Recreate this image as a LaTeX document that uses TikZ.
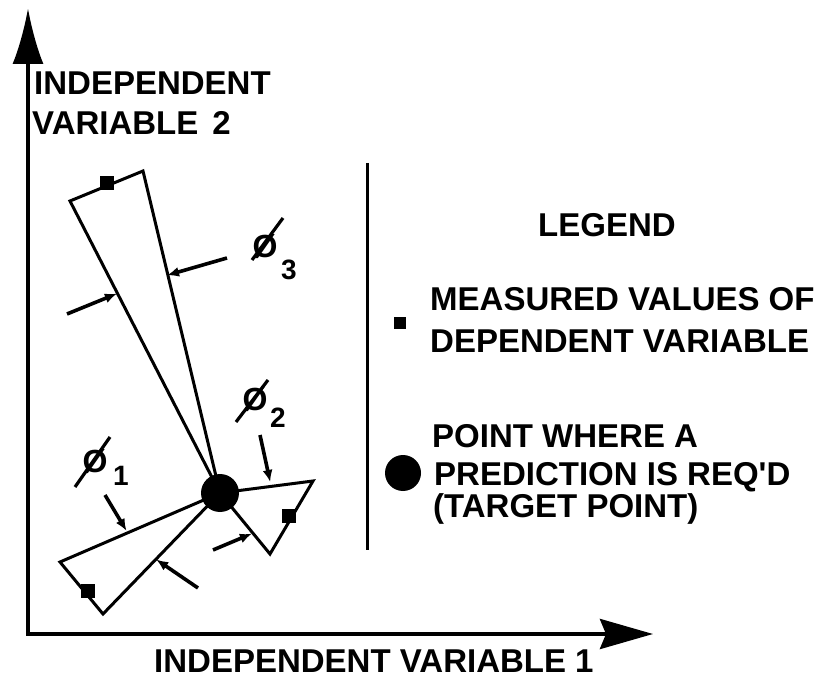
\documentclass[tikz,border=0pt]{standalone}
\usepackage{fontspec}
\setmainfont{Liberation Sans}
\usetikzlibrary{arrows.meta}

\newcommand{\bigtxt}{\fontsize{33}{36}\selectfont\bfseries}
\newcommand{\subtxt}{\fontsize{28}{30}\selectfont\bfseries}

\tikzset{
  lbl/.style={inner sep=0pt, anchor=base west, font=\bigtxt},
  axis/.style={line width=4pt, line join=miter},
  wedge/.style={line width=3pt, line join=miter},
  ptr/.style={line width=3.6pt, -{Latex[length=12pt,width=10pt]}, shorten >=-1pt},
  meas/.style={fill=black, draw=none, minimum size=14pt, inner sep=0pt, shape=rectangle},
  target/.style={fill=black, draw=none, circle, minimum size=38pt, inner sep=0pt},
  phisym/.style={inner sep=0pt, anchor=center, font=\fontsize{32}{34}\selectfont\bfseries},
  phisub/.style={inner sep=0pt, anchor=center, font=\subtxt},
  slash/.style={line width=3.2pt},
}

\begin{document}
\begin{tikzpicture}[x=1pt, y=-1pt]
  \useasboundingbox (0,0) rectangle (823,679);

  % axes
  \coordinate (O) at (28,634);
  \coordinate (ytip) at (28,8);
  \coordinate (xtip) at (653,634);
  \draw[axis, {Latex[length=56pt,width=31pt]}-{Stealth[length=53pt,width=30pt,inset=6pt]}]
    (ytip) -- (O) -- (xtip);

  \node[lbl] (ylab1) at (34,95) {INDEPENDENT};
  \node[lbl] (ylab2) at (32,135) {VARIABLE\hspace*{14pt}2};
  \node[lbl] (xlab) at (154,672) {INDEPENDENT VARIABLE 1};

  % target point
  \coordinate (T) at (220,493);

  % wedge 3 (tall one)
  \coordinate (w3a) at (70,201);
  \coordinate (w3b) at (143,171);
  \draw[wedge] (T) -- (w3a) -- (w3b) -- cycle;

  % wedge 1 (lower left)
  \coordinate (w1a) at (60,562);
  \coordinate (w1b) at (103,614);
  \draw[wedge] (T) -- (w1a) -- (w1b) -- cycle;

  % wedge 2 (right)
  \coordinate (w2a) at (313,481);
  \coordinate (w2b) at (270,554);
  \draw[wedge] (T) -- (w2a) -- (w2b) -- cycle;

  % measured values
  \node[meas] (m3) at (107,183) {};
  \node[meas] (m1) at (88,591) {};
  \node[meas] (m2) at (289,516) {};

  % target point marker
  \node[target] (tgt) at (T) {};

  % angle pointers
  \coordinate (p3ls) at (67,314);  \coordinate (p3le) at (116,294);
  \coordinate (p3rs) at (227,258); \coordinate (p3re) at (168,275);
  \coordinate (p2ts) at (260,435); \coordinate (p2te) at (270,481);
  \coordinate (p2bs) at (213,550); \coordinate (p2be) at (251,534);
  \coordinate (p1ts) at (105,495); \coordinate (p1te) at (126,530);
  \coordinate (p1bs) at (198,588); \coordinate (p1be) at (157,560);
  \draw[ptr] (p3ls) -- (p3le);
  \draw[ptr] (p3rs) -- (p3re);
  \draw[ptr] (p2ts) -- (p2te);
  \draw[ptr] (p2bs) -- (p2be);
  \draw[ptr] (p1ts) -- (p1te);
  \draw[ptr] (p1bs) -- (p1be);

  % angle labels: slashed O with a long stroke, plus index
  \node[phisym] (phi3) at (265,247) {Ø};
  \node[phisub] (phi3s) at (289,270) {3};
  \draw[slash] ([shift={(-13,13)}]phi3.center) -- ([shift={(18,-29)}]phi3.center);

  \node[phisym] (phi2) at (255,400) {Ø};
  \node[phisub] (phi2s) at (278,418) {2};
  \draw[slash] ([shift={(-19,22)}]phi2.center) -- ([shift={(13,-20)}]phi2.center);

  \node[phisym] (phi1) at (95,462) {Ø};
  \node[phisub] (phi1s) at (121,476) {1};
  \draw[slash] ([shift={(-20,25)}]phi1.center) -- ([shift={(15,-25)}]phi1.center);

  % legend
  \coordinate (divtop) at (367,163);
  \coordinate (divbot) at (367,550);
  \draw[line width=3pt] (divtop) -- (divbot);

  \node[inner sep=0pt, anchor=base, font=\bigtxt] (leg) at (607,237) {LEGEND};
  \node[meas, minimum size=12pt] (legsq) at (400,323) {};
  \node[lbl] (leg1a) at (430,311) {MEASURED VALUES OF};
  \node[lbl] (leg1b) at (430,353) {DEPENDENT VARIABLE};
  \node[target, minimum size=36pt] (legdot) at (403,473) {};
  \node[lbl] (leg2a) at (432,447) {POINT WHERE A};
  \node[lbl] (leg2b) at (434,485) {PREDICTION IS REQ\textquotesingle D};
  \node[lbl] (leg2c) at (433,517) {(TARGET POINT)};
\end{tikzpicture}
\end{document}
